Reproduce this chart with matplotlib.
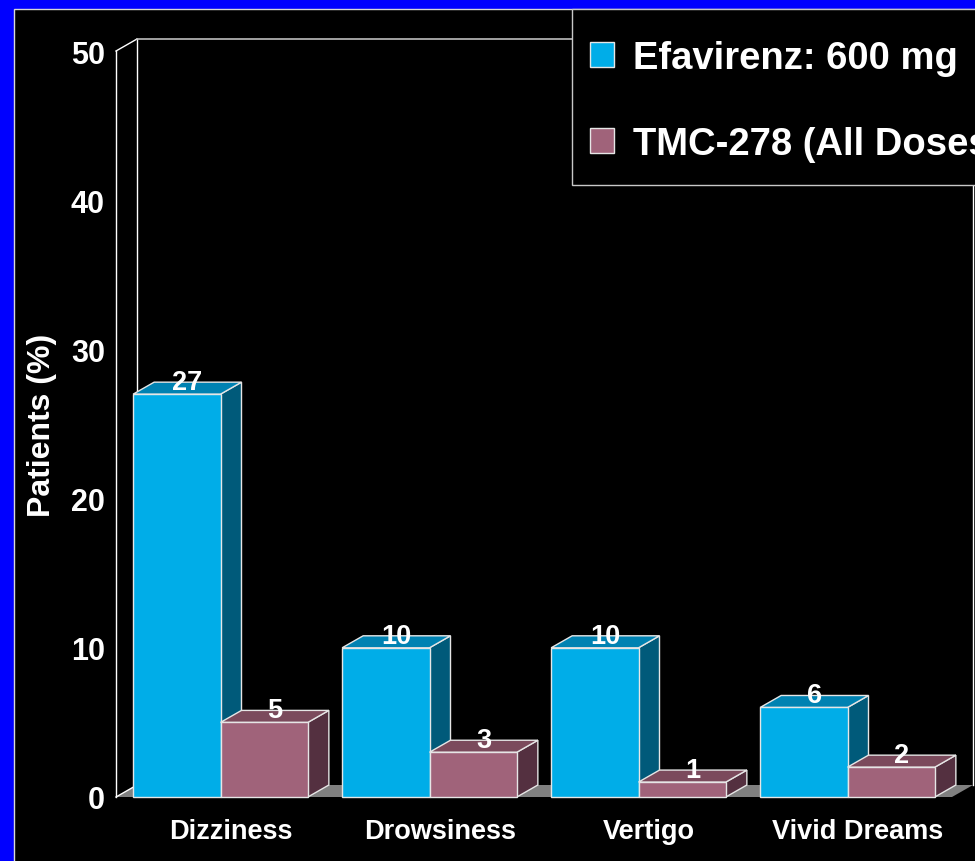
import matplotlib
matplotlib.use("Agg")
import matplotlib.pyplot as plt
from matplotlib.patches import Polygon, Rectangle, Patch
from matplotlib.lines import Line2D
import numpy as np

# Data
categories = ["Dizziness", "Drowsiness", "Vertigo", "Vivid Dreams"]
efavirenz = [27, 10, 10, 6]
tmc278 = [5, 3, 1, 2]
series_names = ["Efavirenz: 600 mg", "TMC-278 (All Doses)"]
y_ticks = [0, 10, 20, 30, 40, 50]

# Styling
plt.rcParams["font.family"] = ["Liberation Sans", "DejaVu Sans"]
plt.rcParams["font.weight"] = "bold"

BLUE = ("#00ADE8", "#0082B2", "#005A7A")   # front, top, side
PINK = ("#A0637A", "#7B4A5C", "#543040")
EDGE = "#E6E6E6"
FLOOR = "#808080"
DEPTH_PX = (21, 12)
BAR_W = 0.418

W, H = 975, 862
fig = plt.figure(figsize=(W / 100, H / 100), dpi=100, facecolor="#0000FF")

# black slide panel
fig.patches.append(Rectangle((14 / W, -0.01), 1.0, 852 / H + 0.01,
                             transform=fig.transFigure, facecolor="black",
                             edgecolor="#D8D8D8", linewidth=1.0, zorder=-1))

ax = fig.add_axes([116 / W, 64 / H, (952 - 116) / W, (798 - 52) / H])
ax.set_xlim(-0.5, 3.5)
ax.set_ylim(0, 50)
ax.patch.set_visible(False)
for s in ax.spines.values():
    s.set_visible(False)

# depth offset expressed in data units
ax_w_px = ax.get_position().width * W
ax_h_px = ax.get_position().height * H
ddx = DEPTH_PX[0] / (ax_w_px / 4.0)
ddy = DEPTH_PX[1] / (ax_h_px / 50.0)

x0, x1 = ax.get_xlim()
y0, y1 = ax.get_ylim()

# floor
ax.add_patch(Polygon([(x0, y0), (x1, y0), (x1 + ddx, y0 + ddy), (x0 + ddx, y0 + ddy)],
                     closed=True, facecolor=FLOOR, edgecolor="none", zorder=1, clip_on=False))
# side wall and back wall outlines
kw = dict(color="white", lw=1.0, zorder=1, clip_on=False)
ax.add_line(Line2D([x0, x0], [y0, y1], **kw))
ax.add_line(Line2D([x0, x0 + ddx], [y1, y1 + ddy], **kw))
ax.add_line(Line2D([x0, x0 + ddx], [y0, y0 + ddy], **kw))
ax.add_line(Line2D([x0 + ddx, x0 + ddx], [y0 + ddy, y1 + ddy], **kw))
ax.add_line(Line2D([x0 + ddx, x1 + ddx], [y1 + ddy, y1 + ddy], color="#BDBDBD", lw=1.2,
                   zorder=1, clip_on=False))
ax.add_line(Line2D([x1 + ddx, x1 + ddx], [y0 + ddy, y1 + ddy], **kw))


def bar3d(left, value, colors, z):
    right = left + BAR_W
    front = Polygon([(left, 0), (right, 0), (right, value), (left, value)])
    top = Polygon([(left, value), (right, value), (right + ddx, value + ddy), (left + ddx, value + ddy)])
    side = Polygon([(right, 0), (right + ddx, ddy), (right + ddx, value + ddy), (right, value)])
    for poly, c in zip((side, top, front), (colors[2], colors[1], colors[0])):
        poly.set_facecolor(c)
        poly.set_edgecolor(EDGE)
        poly.set_linewidth(1.0)
        poly.set_zorder(z)
        poly.set_clip_on(False)
        ax.add_patch(poly)
    ax.text(left + BAR_W / 2 + ddx / 2, value + ddy, f"{value}", color="white",
            fontsize=19.5, fontweight="bold", ha="center", va="center", zorder=z + 0.5)


x = np.arange(len(categories))
for i in range(len(categories)):
    bar3d(x[i] - BAR_W, efavirenz[i], BLUE, 3 + i)
    bar3d(x[i], tmc278[i], PINK, 3.2 + i)

ax.set_yticks(y_ticks)
ax.set_yticklabels([str(t) for t in y_ticks])
ax.set_xticks(x + ddx / 2)
ax.set_xticklabels(categories)
ax.tick_params(axis="y", length=0, pad=8, labelsize=22, labelcolor="white")
ax.tick_params(axis="x", length=0, pad=15, labelsize=19.5, labelcolor="white")
for lab in ax.get_xticklabels() + ax.get_yticklabels():
    lab.set_fontweight("bold")

ax.set_ylabel("Patients (%)", color="white", fontsize=23, fontweight="bold")
ax.yaxis.set_label_coords(-0.0705, 0.5)

# legend box: frame drawn as a panel, entries placed inside it
fig.patches.append(Rectangle((572 / W, 676 / H), 0.5, 176 / H, transform=fig.transFigure,
                             facecolor="black", edgecolor="#C8C8C8", linewidth=1.0, zorder=5))
handles = [Patch(facecolor=BLUE[0], edgecolor=EDGE), Patch(facecolor=PINK[0], edgecolor=EDGE)]
leg = fig.legend(handles, series_names, loc="upper left",
                 bbox_to_anchor=(590 / W, (862 - 41) / H), bbox_transform=fig.transFigure,
                 fontsize=27.5, frameon=False, handlelength=0.63, handleheight=0.63,
                 handletextpad=0.5, labelspacing=1.3, borderpad=0, borderaxespad=0)
leg.set_zorder(6)
for t in leg.get_texts():
    t.set_color("white")
    t.set_fontweight("bold")

fig.savefig("out.png", dpi=100, facecolor=fig.get_facecolor())
